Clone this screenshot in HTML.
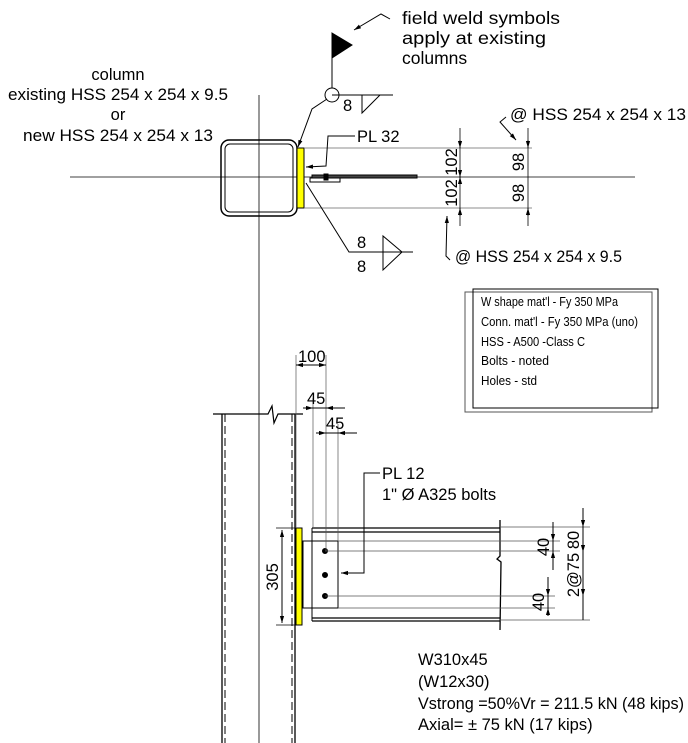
<!DOCTYPE html>
<html><head><meta charset="utf-8"><style>
body{margin:0;background:#fff}
svg{display:block}
text{font-family:"Liberation Sans",Arial,sans-serif;fill:#000}
</style></head><body>
<svg width="688" height="743" viewBox="0 0 688 743" xmlns="http://www.w3.org/2000/svg">
<defs>
<marker id="a" viewBox="0 0 10 10" refX="10" refY="5" markerWidth="7" markerHeight="7" orient="auto-start-reverse"><path d="M0,2 L10,5 L0,8 z" fill="#000"/></marker>
</defs>
<g stroke="#000" fill="none" stroke-width="1">
<line x1="259" y1="95" x2="259" y2="743" stroke-width="0.8"/>
<line x1="70" y1="177" x2="635" y2="177" stroke-width="0.8"/>
<rect x="221" y="140" width="76" height="76" rx="8" stroke-width="1.5"/>
<rect x="225" y="144" width="68" height="68" rx="5" stroke-width="1"/>
<rect x="297" y="148" width="7" height="60" fill="#ffff00"/>
<rect x="312" y="175" width="105" height="3" fill="#444"/>
<rect x="310" y="178" width="30" height="4"/>
<rect x="324" y="174" width="4" height="6" fill="#000"/>
<line x1="304" y1="148" x2="532" y2="148" stroke="#666" stroke-width="0.7"/>
<line x1="304" y1="208" x2="532" y2="208" stroke="#666" stroke-width="0.7"/>
<line x1="460" y1="128" x2="460" y2="226" stroke-width="0.8"/>
<line x1="528" y1="128" x2="528" y2="226" stroke-width="0.8"/>
<line x1="460" y1="140" x2="460" y2="148" marker-end="url(#a)"/>
<line x1="460" y1="216" x2="460" y2="208" marker-end="url(#a)"/>
<line x1="460" y1="170" x2="460" y2="177" marker-end="url(#a)"/>
<line x1="460" y1="184" x2="460" y2="177" marker-end="url(#a)"/>
<line x1="528" y1="140" x2="528" y2="148" marker-end="url(#a)"/>
<line x1="528" y1="216" x2="528" y2="208" marker-end="url(#a)"/>
<path d="M506,117 L500,122 L516,140" marker-end="url(#a)"/>
<path d="M450,260 L446,256 L447,216" marker-end="url(#a)"/>
<path d="M355,136 L328,136 L326,166 L306,167" marker-end="url(#a)"/>
<line x1="332" y1="33" x2="332" y2="88"/>
<path d="M332,33 L352,45 L332,58 z" fill="#000"/>
<circle cx="332" cy="95" r="7"/>
<line x1="332" y1="95" x2="393" y2="95"/>
<path d="M362,95 L362,113 L380,95"/>
<path d="M327,99 L312,109 L298,147" marker-end="url(#a)"/>
<path d="M390,19 L381,14 L354,30" marker-end="url(#a)"/>
<path d="M306,183 L349,252 L413,252"/>
<path d="M383,236 L383,270 L402,252 z"/>
<line x1="222" y1="414" x2="222" y2="743" stroke-width="1.3"/>
<line x1="225" y1="414" x2="225" y2="743" stroke-dasharray="8,4"/>
<line x1="292" y1="414" x2="292" y2="743" stroke-dasharray="8,4"/>
<line x1="295" y1="414" x2="295" y2="743" stroke-width="1.3"/>
<path d="M213,414 L268,414 L272,406 L274,423 L278,414 L303,414" stroke-width="1.2"/>
<rect x="296" y="528" width="6" height="97" fill="#ffff00"/>
<line x1="282" y1="530" x2="282" y2="623" marker-start="url(#a)" marker-end="url(#a)"/>
<line x1="276" y1="528" x2="296" y2="528" stroke-width="0.7"/>
<line x1="276" y1="625" x2="296" y2="625" stroke-width="0.7"/>
<line x1="312" y1="528" x2="500" y2="528" stroke-width="1.3"/>
<line x1="312" y1="532" x2="500" y2="532" stroke-width="1.3"/>
<line x1="312" y1="618" x2="500" y2="618" stroke-width="1.3"/>
<line x1="312" y1="621" x2="500" y2="621" stroke-width="1.3"/>
<line x1="312" y1="528" x2="312" y2="621"/>
<path d="M500,520 L500,556 L497,559 L501,562 L500,630" stroke-width="1.3"/>
<rect x="303" y="541" width="35" height="67"/>
<circle cx="325" cy="551" r="2.5" fill="#000"/>
<circle cx="325" cy="575" r="2.5" fill="#000"/>
<circle cx="325" cy="596" r="2.5" fill="#000"/>
<g stroke="#555" stroke-width="0.7">
<line x1="338" y1="541" x2="560" y2="541"/>
<line x1="325" y1="551" x2="560" y2="551"/>
<line x1="325" y1="596" x2="555" y2="596"/>
<line x1="338" y1="608" x2="555" y2="608"/>
<line x1="500" y1="527" x2="590" y2="527"/>
<line x1="500" y1="620" x2="590" y2="620"/>
<line x1="296" y1="355" x2="296" y2="528"/>
<line x1="326" y1="355" x2="326" y2="551"/>
<line x1="313" y1="398" x2="313" y2="528"/>
<line x1="338" y1="424" x2="338" y2="541"/>
</g>
<line x1="296" y1="365" x2="326" y2="365" marker-start="url(#a)" marker-end="url(#a)"/>
<path d="M303,408 L313,408" marker-end="url(#a)"/><path d="M345,408 L326,408" marker-end="url(#a)"/><line x1="313" y1="408" x2="326" y2="408"/>
<path d="M316,433 L326,433" marker-end="url(#a)"/><path d="M357,433 L338,433" marker-end="url(#a)"/><line x1="326" y1="433" x2="338" y2="433"/>
<path d="M380,473 L364,473 L364,573 L341,573" marker-end="url(#a)"/>
<line x1="553" y1="522" x2="553" y2="570"/>
<line x1="553" y1="530" x2="553" y2="541" marker-end="url(#a)"/>
<line x1="553" y1="562" x2="553" y2="551" marker-end="url(#a)"/>
<line x1="548" y1="577" x2="548" y2="616"/>
<line x1="548" y1="586" x2="548" y2="596" marker-end="url(#a)"/>
<line x1="548" y1="616" x2="548" y2="608" marker-end="url(#a)"/>
<line x1="583" y1="508" x2="583" y2="620"/>
<line x1="583" y1="516" x2="583" y2="527" marker-end="url(#a)"/>
<line x1="583" y1="541" x2="583" y2="552" marker-end="url(#a)"/>
<line x1="583" y1="585" x2="583" y2="596" marker-end="url(#a)"/>
<rect x="465" y="292" width="187" height="120" stroke="#555"/>
<rect x="473" y="289" width="185" height="119"/>
</g>
<g font-size="16.5">
<text x="118" y="80" text-anchor="middle">column</text>
<text x="118" y="100" text-anchor="middle" textLength="220" lengthAdjust="spacingAndGlyphs">existing HSS 254 x 254 x 9.5</text>
<text x="118" y="120" text-anchor="middle">or</text>
<text x="118" y="141" text-anchor="middle" textLength="190" lengthAdjust="spacingAndGlyphs">new HSS 254 x 254 x 13</text>
<text x="402" y="24" font-size="17.5" textLength="158" lengthAdjust="spacingAndGlyphs">field weld symbols</text>
<text x="402" y="44" font-size="17.5" textLength="144" lengthAdjust="spacingAndGlyphs">apply at existing</text>
<text x="402" y="64" font-size="17.5">columns</text>
<text x="343" y="111">8</text>
<text x="357" y="142">PL 32</text>
<text x="510" y="120" textLength="176" lengthAdjust="spacingAndGlyphs">@ HSS 254 x 254 x 13</text>
<text x="455" y="262" textLength="167" lengthAdjust="spacingAndGlyphs">@ HSS 254 x 254 x 9.5</text>
<text x="357" y="248">8</text>
<text x="357" y="272">8</text>
<text transform="translate(457,162) rotate(-90)" text-anchor="middle">102</text>
<text transform="translate(457,193) rotate(-90)" text-anchor="middle">102</text>
<text transform="translate(524,162) rotate(-90)" text-anchor="middle">98</text>
<text transform="translate(524,193) rotate(-90)" text-anchor="middle">98</text>
<text x="298" y="362">100</text>
<text x="307" y="404">45</text>
<text x="326" y="429">45</text>
<text x="382" y="479">PL 12</text>
<text x="382" y="500">1" Ø A325 bolts</text>
<text transform="translate(278,577) rotate(-90)" text-anchor="middle">305</text>
<text transform="translate(549,547) rotate(-90)" text-anchor="middle">40</text>
<text transform="translate(544,602) rotate(-90)" text-anchor="middle">40</text>
<text transform="translate(579,540) rotate(-90)" text-anchor="middle">80</text>
<text transform="translate(579,575) rotate(-90)" text-anchor="middle">2@75</text>
<text x="418" y="665">W310x45</text>
<text x="418" y="687">(W12x30)</text>
<text x="418" y="709" textLength="266" lengthAdjust="spacingAndGlyphs">Vstrong =50%Vr = 211.5 kN (48 kips)</text>
<text x="418" y="730">Axial= ± 75 kN (17 kips)</text>
</g>
<g font-size="13">
<text x="481" y="306" textLength="137" lengthAdjust="spacingAndGlyphs">W shape mat'l - Fy 350 MPa</text>
<text x="481" y="326" textLength="157" lengthAdjust="spacingAndGlyphs">Conn. mat'l - Fy 350 MPa (uno)</text>
<text x="481" y="346" textLength="104" lengthAdjust="spacingAndGlyphs">HSS - A500 -Class C</text>
<text x="481" y="365" textLength="68" lengthAdjust="spacingAndGlyphs">Bolts - noted</text>
<text x="481" y="385" textLength="56" lengthAdjust="spacingAndGlyphs">Holes - std</text>
</g>
</svg>
</body></html>
